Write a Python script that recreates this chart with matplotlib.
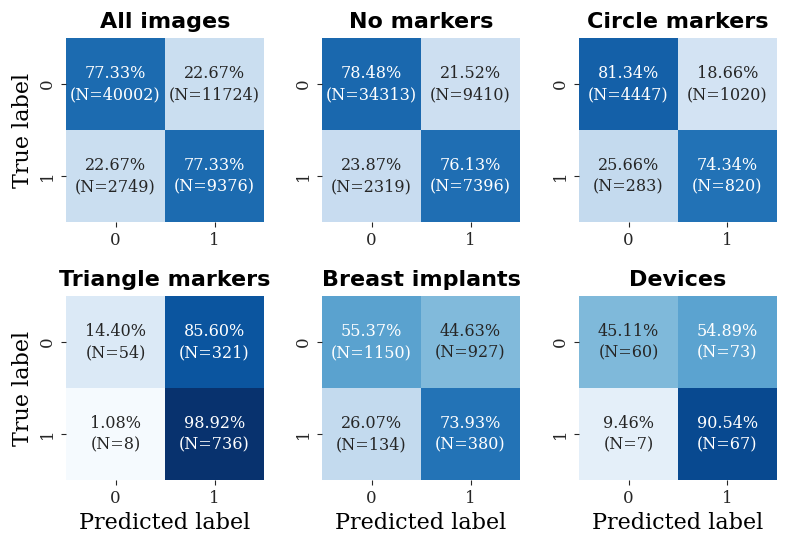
import matplotlib
matplotlib.use("Agg")
import matplotlib.pyplot as plt
import numpy as np
import seaborn as sns

plt.rcParams['font.family'] = ['DejaVu Serif']

titles = ["All images", "No markers", "Circle markers",
          "Triangle markers", "Breast implants", "Devices"]
counts_all = [[40002, 11724], [2749, 9376]]
counts_none = [[34313, 9410], [2319, 7396]]
counts_circle = [[4447, 1020], [283, 820]]
counts_triangle = [[54, 321], [8, 736]]
counts_implants = [[1150, 927], [134, 380]]
counts_devices = [[60, 73], [7, 67]]
tick_labels = ["0", "1"]

all_counts = [counts_all, counts_none, counts_circle,
              counts_triangle, counts_implants, counts_devices]

fig = plt.figure(figsize=(7.89, 5.46), dpi=100)
W, H = 789, 546
lefts = [66, 322, 579]
tops = [38, 296]
aw, ah = 198, 184

for i, (title, counts) in enumerate(zip(titles, all_counts)):
    r, c = divmod(i, 3)
    ax = fig.add_axes([lefts[c] / W, 1 - (tops[r] + ah) / H, aw / W, ah / H])
    cm = np.array(counts, dtype=float)
    norm = cm / cm.sum(axis=1, keepdims=True)
    annot = np.array([[f"{norm[a, b]*100:.2f}%\n(N={int(cm[a, b])})" for b in range(2)]
                      for a in range(2)])
    sns.heatmap(norm, annot=annot, fmt="", cmap="Blues", vmin=0, vmax=1,
                cbar=False, ax=ax,
                annot_kws={"fontsize": 11.5, "family": "DejaVu Serif", "linespacing": 1.3},
                xticklabels=tick_labels, yticklabels=tick_labels)
    ax.set_title(title, fontsize=16, fontweight="bold", family="DejaVu Sans", pad=7.5)
    ax.tick_params(labelsize=12, colors="#262626")
    for t in ax.get_yticklabels():
        t.set_rotation(90)
        t.set_va("center")
    if c == 0:
        ax.set_ylabel("True label", fontsize=16)
    if r == 1:
        ax.set_xlabel("Predicted label", fontsize=16)

fig.savefig("out.png", dpi=100)
